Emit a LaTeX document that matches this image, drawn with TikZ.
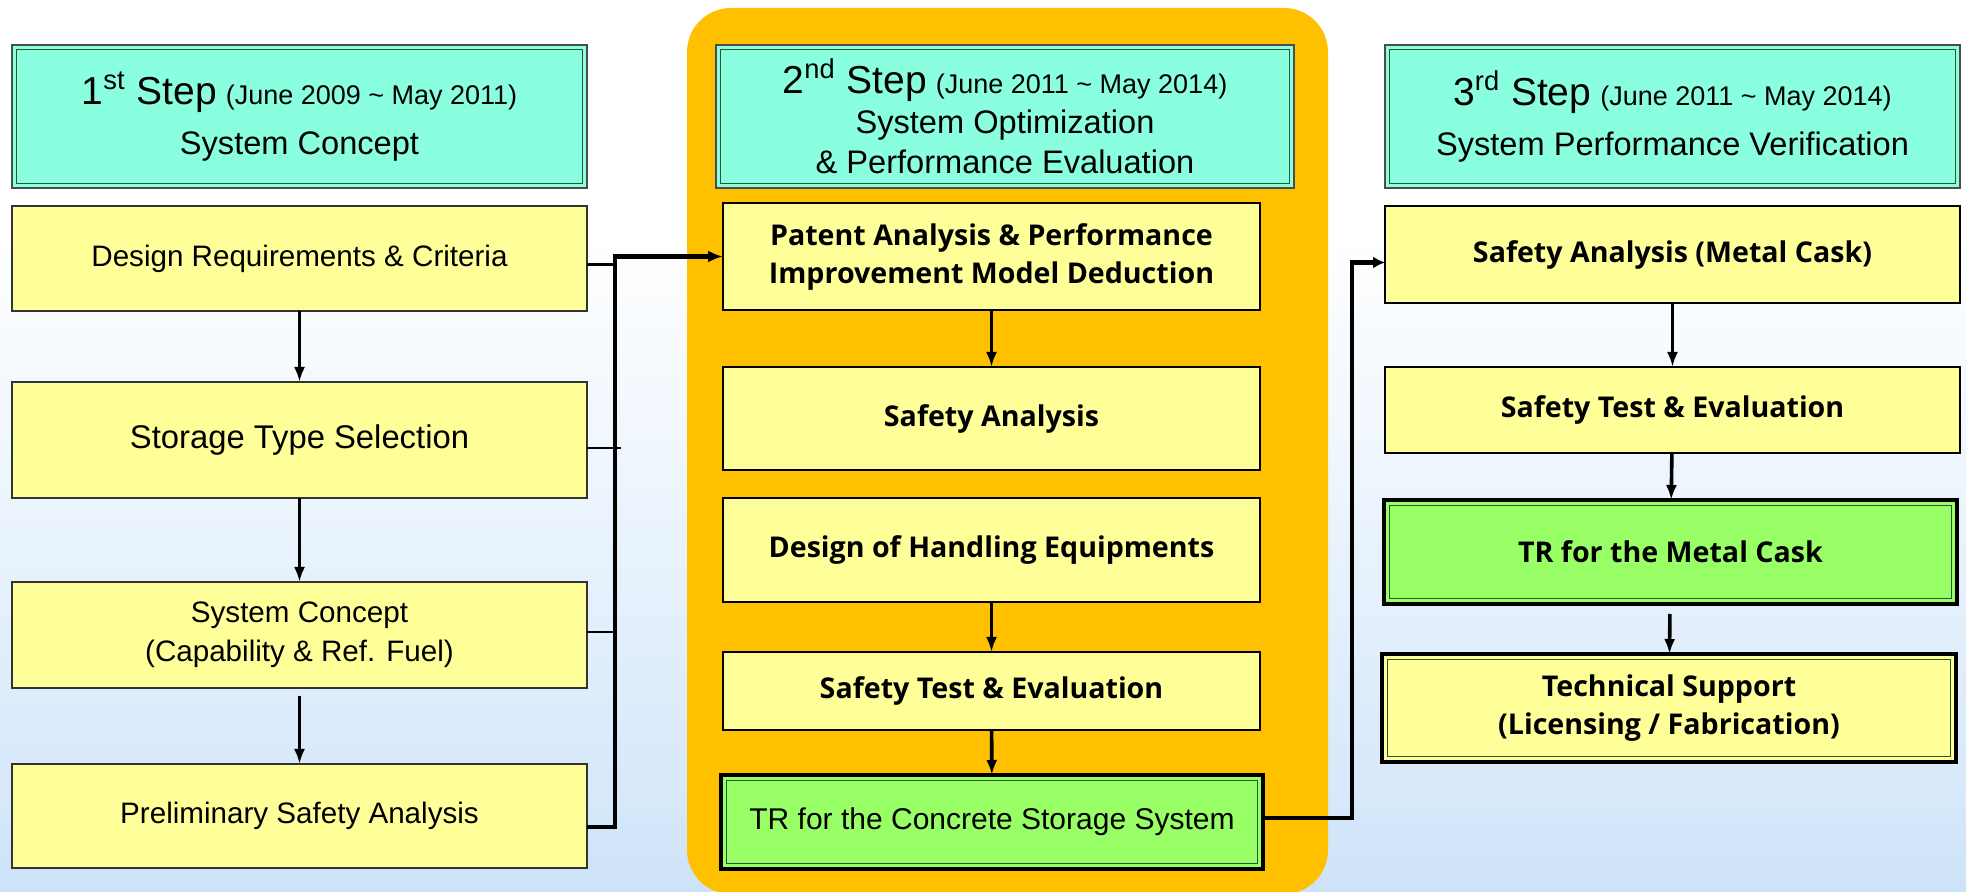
\documentclass[tikz,border=0pt]{standalone}
\usepackage{fontspec}
\setmainfont{Liberation Sans}
\newfontfamily\boldface{Open Sans}
\usetikzlibrary{arrows.meta}

\definecolor{headfill}{RGB}{138,255,224}
\definecolor{boxfill}{RGB}{255,255,153}
\definecolor{donefill}{RGB}{153,255,102}
\definecolor{phase}{RGB}{255,192,0}
\definecolor{skylow}{RGB}{158,198,238}
\definecolor{skymid}{RGB}{214,232,250}
\definecolor{innerline}{RGB}{40,90,50}

\pgfdeclareverticalshading{skyfade}{100bp}{color(0bp)=(skylow); color(30bp)=(skymid); color(62bp)=(white); color(100bp)=(white)}

\begin{document}
\begin{tikzpicture}[x=0.5pt,y=-0.5pt,
  every node/.style={inner sep=0pt, outer sep=0pt, align=center},
  % a box given by its corners (x1,y1) and (x2,y2)
  span/.style n args={4}{minimum width={(#3-#1)*0.5pt}, minimum height={(#4-#2)*0.5pt},
      at={({(#1+#3)/2},{(#2+#4)/2})}},
  inset/.style={path picture={\draw[innerline, line width=0.6pt]
      ([shift={(#1,-#1)}]path picture bounding box.north west) rectangle
      ([shift={(-#1,#1)}]path picture bounding box.south east);}},
  head/.style={fill=headfill, draw=black!70, line width=0.7pt, inset=2.2pt,
      font=\fontsize{16.3}{20}\selectfont},
  plainbox/.style={fill=boxfill, draw=black!80, line width=0.9pt,
      font=\fontsize{14.8}{19.5}\selectfont},
  boldbox/.style={fill=boxfill, draw=black, line width=1.2pt,
      font=\boldface\bfseries\fontsize{14.3}{19}\selectfont},
  donebox/.style={fill=donefill, draw=black, line width=2pt, inset=2.6pt},
  supportbox/.style={boldbox, line width=2pt, inset=2.6pt},
  flow/.style={line width=1.8pt, -{Latex[length=7.5pt,width=5.5pt]}},
  bus/.style={line width=2.2pt},
  stub/.style={line width=1.4pt},
]
\clip (0,0) rectangle (1966,892);
% sky backdrop
\shade[shading=skyfade] (0,0) rectangle (1966,892);

% phase band behind the middle column
\fill[phase, rounded corners=22pt] (687,8) rectangle (1328,894);

% step headers
\node[head, span={12}{45}{587}{188}] (h1)
  {{\fontsize{19.5}{22}\selectfont 1\textsuperscript{st} Step}
   {\fontsize{13.5}{16}\selectfont (June 2009 \textasciitilde{} May 2011)}\\[5pt]
   System Concept};
\node[head, span={716}{45}{1294}{188}] (h2)
  {{\fontsize{19.5}{22}\selectfont 2\textsuperscript{nd} Step}
   {\fontsize{13.5}{16}\selectfont (June 2011 \textasciitilde{} May 2014)}\\
   System Optimization\\
   \& Performance Evaluation};
\node[head, span={1385}{45}{1960}{188}] (h3)
  {{\fontsize{19.5}{22}\selectfont 3\textsuperscript{rd} Step}
   {\fontsize{13.5}{16}\selectfont (June 2011 \textasciitilde{} May 2014)}\\[5pt]
   System Performance Verification};

% first column
\node[plainbox, span={12}{206}{587}{311}] (c1a) {Design Requirements \& Criteria};
\node[plainbox, span={12}{382}{587}{498}, font=\fontsize{16.4}{20}\selectfont] (c1b) {Storage Type Selection};
\node[plainbox, span={12}{582}{587}{688}] (c1c) {System Concept\\(Capability \& Ref. Fuel)};
\node[plainbox, span={12}{764}{587}{868}] (c1d) {Preliminary Safety Analysis};

% second column
\node[boldbox, span={723}{203}{1260}{310}] (c2a) {Patent Analysis \& Performance\\Improvement Model Deduction};
\node[boldbox, span={723}{367}{1260}{470}] (c2b) {Safety Analysis};
\node[boldbox, span={723}{498}{1260}{602}] (c2c) {Design of Handling Equipments};
\node[boldbox, span={723}{652}{1260}{730}] (c2d) {Safety Test \& Evaluation};
\node[donebox, span={721}{775}{1263}{869}, font=\fontsize{15}{19}\selectfont] (c2e) {TR for the Concrete Storage System};

% third column
\node[boldbox, span={1385}{206}{1960}{303}] (c3a) {Safety Analysis (Metal Cask)};
\node[boldbox, span={1385}{367}{1960}{453}] (c3b) {Safety Test \& Evaluation};
\node[donebox, span={1384}{500}{1957}{604}, font=\boldface\bfseries\fontsize{14.3}{19}\selectfont] (c3c) {TR for the Metal Cask};
\node[supportbox, span={1382}{654}{1956}{762}] (c3d) {Technical Support\\(Licensing / Fabrication)};

% vertical flow inside the columns
\draw[flow] (c1a) -- (c1b);
\draw[flow] (c1b) -- (c1c);
\draw[flow, shorten <=4pt] (c1c) -- (c1d);
\draw[flow] (c2a) -- (c2b);
\draw[flow] (c2c) -- (c2d);
\draw[flow] (c2d) -- (c2e);
\draw[flow] (c3a) -- (c3b);
\draw[flow] (c3b) -- (c3c);
\draw[flow, shorten <=5pt] (c3c) -- (c3d);

% collector bus from the first column into the second step
\coordinate (busx) at (615,0);
\coordinate (s1) at ([yshift=-3pt]c1a.east);
\coordinate (s2) at ([yshift=-4pt]c1b.east);
\coordinate (s3) at ([yshift=1.5pt]c1c.east);
\coordinate (s4) at ([yshift=-5.5pt]c1d.east);
\draw[bus, -{Latex[length=7.5pt,width=6pt]}] (s4) -| (c2a.west -| busx) -- (c2a.west);
\draw[stub] (s1) -- (s1 -| busx);
\draw[stub, shorten >=-3pt] (s2) -- (s2 -| busx);
\draw[stub] (s3) -- (s3 -| busx);

% hand-over from the second step to the third
\coordinate (jx) at (1352,0);
\coordinate (t1) at ([yshift=-4pt]c3a.west);
\draw[bus, -{Latex[length=6pt,width=6pt]}] ([yshift=2pt]c2e.east) -| (t1 -| jx) -- (t1);
\end{tikzpicture}
\end{document}
